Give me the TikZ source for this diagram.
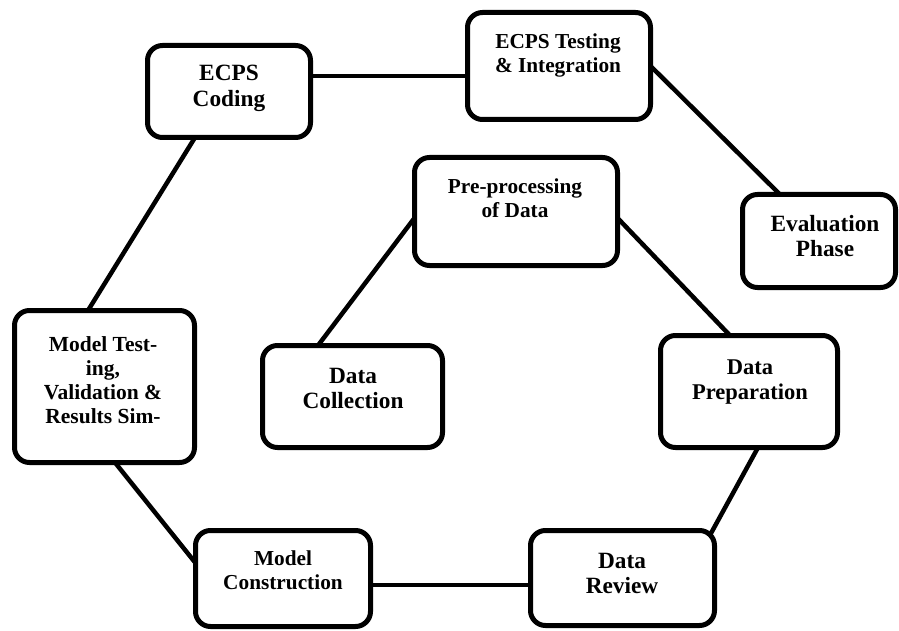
\documentclass[tikz,border=0pt]{standalone}
\usepackage{fontspec}
\setmainfont{Liberation Serif}
\begin{document}
\begin{tikzpicture}[x=1pt,y=-1pt,
  box/.style={draw=black,line width=5pt,rounded corners=15pt,fill=white,inner sep=0pt,outer sep=0pt},
  conn/.style={draw=black,line width=4.5pt},
  tA/.style={inner sep=0pt,align=center,anchor=north,font=\fontsize{21.3}{24}\selectfont\bfseries},
  tB/.style={inner sep=0pt,align=center,anchor=north,font=\fontsize{23.3}{25.5}\selectfont\bfseries},
  tG/.style={inner sep=0pt,align=center,anchor=north,font=\fontsize{21.5}{24}\selectfont\bfseries}]
\useasboundingbox (0,0) rectangle (899,631);
% boxes
\node[box,minimum width=163pt,minimum height=92pt] (coding) at (229,91.5) {};
\node[box,minimum width=183pt,minimum height=107pt] (testing) at (559,66) {};
\node[box,minimum width=153pt,minimum height=93pt] (eval) at (819,241) {};
\node[box,minimum width=203pt,minimum height=108pt] (preproc) at (516,211.5) {};
\node[box,minimum width=180pt,minimum height=102pt] (collect) at (352.5,396.5) {};
\node[box,minimum width=177pt,minimum height=112pt] (prep) at (749,391.5) {};
\node[box,minimum width=180pt,minimum height=152pt] (mtest) at (104.5,386.5) {};
\node[box,minimum width=175pt,minimum height=96pt] (mcons) at (283,578.5) {};
\node[box,minimum width=184pt,minimum height=95pt] (review) at (622.5,578) {};
% texts
\node[tB] (codingtxt) at (229,65) {ECPS\\Coding};
\node[tA] (testingtxt) at (558,34) {ECPS Testing\\\& Integration};
\node[tB] (evaltxt) at (825,215) {Evaluation\\Phase};
\node[tA] (preproctxt) at (515,179) {Pre-processing\\of Data};
\node[tB] (collecttxt) at (353,368) {Data\\Collection};
\node[tG,font=\fontsize{22.5}{25}\selectfont\bfseries] (preptxt) at (750,360) {Data\\Preparation};
\node[tG] (mtesttxt) at (103,336) {Model Test-\\ing,\\Validation \&\\Results Sim-};
\node[tA] (mconstxt) at (283,551) {Model\\Construction};
\node[tB] (reviewtxt) at (622,553) {Data\\Review};
% connectors
\draw[conn] ([yshift=15.5pt]coding.east) -- ([yshift=15.5pt]coding.east -| testing.west);
\draw[conn] (testing.east) -- ([xshift=37.5pt]eval.north west);
\draw[conn] ([yshift=-6.5pt]preproc.west) -- ([xshift=55.5pt]collect.north west);
\draw[conn] ([yshift=-6.5pt]preproc.east) -- ([xshift=69.5pt]prep.north west);
\draw[conn] ([xshift=97.5pt]prep.south west) -- ([xshift=-4.4pt,yshift=-4.4pt]review.north east);
\draw[conn] ([yshift=-7pt]review.west) -- ([yshift=-7pt]review.west -| mcons.east);
\draw[conn] ([yshift=-32.5pt]mcons.north west) -- ([xshift=100.5pt]mtest.south west);
\draw[conn] ([xshift=73.5pt]mtest.north west) -- ([xshift=47.5pt]coding.south west);
\end{tikzpicture}
\end{document}
